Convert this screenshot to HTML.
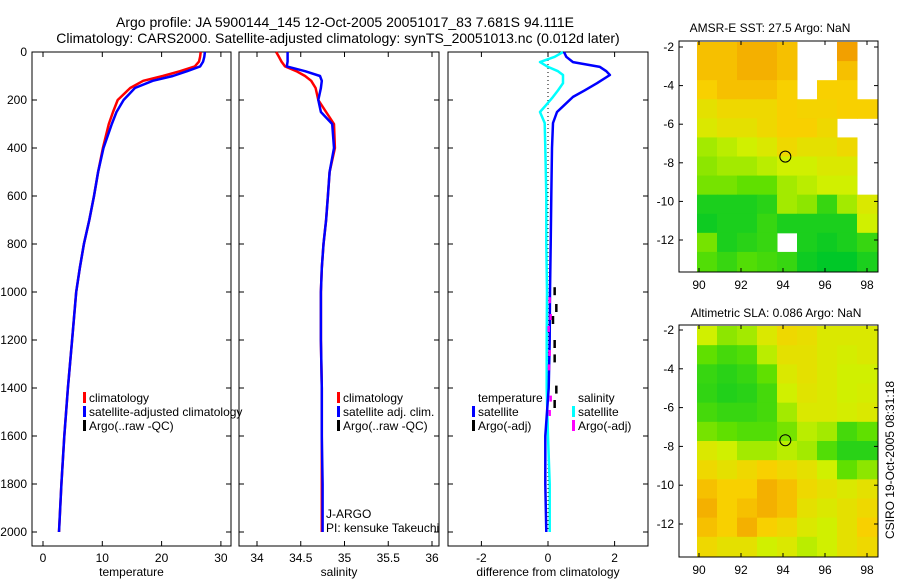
<!DOCTYPE html>
<html><head><meta charset="utf-8"><style>
body{margin:0;background:#fff;}
svg{display:block;font-family:"Liberation Sans",sans-serif;}
</style></head><body>
<svg id="c" width="900" height="580" xmlns="http://www.w3.org/2000/svg">
<text x="345" y="27" font-size="14" text-anchor="middle">Argo profile: JA 5900144_145 12-Oct-2005 20051017_83 7.681S 94.111E</text>
<text x="338" y="43" font-size="14" text-anchor="middle">Climatology: CARS2000. Satellite-adjusted climatology: synTS_20051013.nc (0.012d later)</text>
<text x="770" y="32" font-size="12" text-anchor="middle">AMSR-E SST: 27.5 Argo: NaN</text>
<text x="776" y="317" font-size="12" text-anchor="middle">Altimetric SLA: 0.086 Argo: NaN</text>
<text transform="translate(894,460) rotate(-90)" font-size="12" text-anchor="middle">CSIRO 19-Oct-2005 08:31:18</text>
</svg>
<script>
const depths=[0,20,40,60,80,100,120,150,200,250,300,400,500,600,700,800,900,1000,1200,1400,1600,1800,2000];
const climT=[26.6,26.5,26.3,25.6,23.1,20.2,16.9,14.7,12.6,11.8,11.1,10.1,9.3,8.6,7.8,6.9,6.2,5.6,4.9,4.2,3.6,3.1,2.7];
const satT=[27.3,27.2,27.0,26.5,24.3,21.9,18.5,15.5,13.6,12.4,11.6,10.2,9.3,8.6,7.8,6.9,6.2,5.6,4.9,4.2,3.6,3.1,2.7];
const climS=[34.22,34.25,34.28,34.32,34.45,34.55,34.62,34.67,34.70,34.79,34.88,34.89,34.83,34.81,34.79,34.76,34.74,34.73,34.73,34.74,34.74,34.74,34.74];
const satS=[34.35,34.35,34.35,34.34,34.55,34.72,34.74,34.73,34.70,34.73,34.86,34.88,34.83,34.81,34.79,34.76,34.74,34.73,34.73,34.74,34.74,34.75,34.75];
const diffDepths=[0,20,42,62,80,96,130,160,187,220,250,296,400,600,800,1000,1200,1400,1600,1800,2000];
const diffT=[0.48,0.55,0.75,1.56,1.75,1.86,1.47,1.1,0.75,0.5,0.27,0.15,0.12,0.1,0.08,0.06,0.05,0.02,-0.08,-0.08,-0.05];
const diffS=[0.45,0.2,-0.24,0.0,0.3,0.45,0.45,0.3,0.15,-0.05,-0.24,-0.1,-0.08,-0.05,-0.05,-0.03,-0.04,-0.04,0.0,0.05,0.05];
const argoDepths=[980,1050,1100,1200,1260,1390,1450];
const argoDT=[0.2,0.25,0.15,0.2,0.2,0.25,0.2];
const argoDS=[0.05,0.08,0.02,0.05,0.03,0.08,0.05];
const depthTicks=[0,200,400,600,800,1000,1200,1400,1600,1800,2000];
const tTicks=[0,10,20,30];
const sTicks=[34,34.5,35,35.5,36];
const dTicks=[-2,0,2];
const lonTicks=[90,92,94,96,98];
const latTicks=[-2,-4,-6,-8,-10,-12];
const sstGrid=[
[.85,.85,.9,.9,.85,null,null,.95,null],
[.85,.85,.9,.9,.85,null,null,.85,null],
[.8,.85,.85,.85,.8,null,.8,.8,null],
[.7,.75,.75,.75,.8,.78,.78,.8,.8],
[.65,.7,.7,.75,.8,.8,.75,null,null],
[.5,.55,.6,.65,.75,.7,.7,.75,null],
[.45,.5,.5,.55,.6,.6,.65,.65,null],
[.4,.4,.35,.35,.5,.55,.6,.6,null],
[.1,.1,.1,.15,.5,.45,.2,.5,.65],
[.05,.1,.1,.2,.1,.1,.1,.1,.6],
[.4,.1,.15,.2,null,.1,.05,.1,.2],
[.3,.2,.3,.25,.2,.05,0,0,.1]];
const slaGrid=[
[.6,.45,.5,.65,.75,.72,.65,.65,.65],
[.35,.25,.3,.55,.7,.7,.65,.62,.65],
[.2,.15,.2,.35,.65,.7,.65,.6,.6],
[.18,.12,.15,.25,.6,.68,.65,.6,.62],
[.25,.2,.2,.25,.5,.65,.65,.62,.65],
[.4,.35,.3,.3,.4,.55,.5,.25,.35],
[.65,.6,.5,.5,.55,.5,.3,.15,.15],
[.75,.7,.75,.8,.75,.7,.6,.35,.45],
[.85,.8,.8,.9,.85,.75,.7,.65,.7],
[.9,.8,.85,.9,.85,.7,.65,.7,.75],
[.85,.8,.9,.8,.75,.65,.6,.7,.8],
[.75,.7,.7,.6,.65,.55,.6,.7,.75]];

const NS='http://www.w3.org/2000/svg';
const svg=document.getElementById('c');
function mk(tag,attrs,parent){const e=document.createElementNS(NS,tag);for(const k in attrs)e.setAttribute(k,attrs[k]);(parent||svg).appendChild(e);return e;}
function txt(x,y,s,size,anchor,parent){const t=mk('text',{x:x,y:y,'font-size':size,'text-anchor':anchor||'middle'},parent);t.textContent=s;return t;}
const yD=d=>52+d*0.24;
const panels=[
 {x0:32,x1:231,v0:0,px0:43,scale:5.93,ticks:tTicks,label:'temperature',name:'temperature-panel'},
 {x0:239,x1:439,v0:34,px0:257,scale:87.5,ticks:sTicks,label:'salinity',name:'salinity-panel'},
 {x0:448,x1:648,v0:0,px0:548,scale:33.3,ticks:dTicks,label:'difference from climatology',name:'difference-panel'}];
panels.forEach((p,i)=>{
 p.xf=v=>p.px0+(v-p.v0)*p.scale;
 const g=mk('g',{});
 
 
 mk('rect',{x:p.x0,y:52,width:p.x1-p.x0,height:494,fill:'none',stroke:'#000','stroke-width':1},g);
 p.ticks.forEach(t=>{const x=p.xf(t);mk('line',{x1:x,x2:x,y1:546,y2:541,stroke:'#000'},g);mk('line',{x1:x,x2:x,y1:52,y2:57,stroke:'#000'},g);
  const tl=txt(x,562,String(t),12,'middle',g);
  
  });
 depthTicks.forEach(d=>{const y=yD(d);mk('line',{x1:p.x0,x2:p.x0+5,y1:y,y2:y,stroke:'#000'},g);mk('line',{x1:p.x1,x2:p.x1-5,y1:y,y2:y,stroke:'#000'},g);
  if(i==0){const tl=txt(27,y+4,String(d),12,'end',g);
  
  }});
 const xl=txt((p.x0+p.x1)/2,576,p.label,12,'middle',g);
 
 
});
function line(p,vals,ds,color,w,name){
 const pts=vals.map((v,k)=>p.xf(v).toFixed(1)+','+yD(ds[k]).toFixed(1)).join(' ');
 const l=mk('polyline',{points:pts,fill:'none',stroke:color,'stroke-width':w,'stroke-linejoin':'round'});
 
 
}
const P=panels;
line(P[0],climT,depths,'#f00',2.5,'climatology-temperature-line');
line(P[0],satT,depths,'#00f',2.5,'satellite-temperature-line');
line(P[1],climS,depths,'#f00',2.5,'climatology-salinity-line');
line(P[1],satS,depths,'#00f',2.5,'satellite-salinity-line');
mk('line',{x1:548,x2:548,y1:52,y2:532,stroke:'#000','stroke-dasharray':'1,3'});
line(P[2],diffS,diffDepths,'#0ff',2.5,'salinity-difference-line');
line(P[2],diffT,diffDepths,'#00f',2.5,'temperature-difference-line');
argoDepths.forEach((d,k)=>{const x=P[2].xf(argoDT[k]);const a=mk('line',{x1:x,x2:x,y1:yD(d),y2:yD(d)+8,stroke:'#000','stroke-width':2.5});
 
 
 const xs=P[2].xf(argoDS[k]);const b=mk('line',{x1:xs,x2:xs,y1:yD(d)+10,y2:yD(d)+16,stroke:'#f0f','stroke-width':2.5});
 
 });
function legend(x,y,items,name){const g=mk('g',{});
 items.forEach((it,k)=>{const yy=y+k*14;if(it[0])mk('rect',{x:x,y:yy-10,width:3,height:11,fill:it[0]},g);txt(x+6,yy,it[1],12,'start',g);});}
legend(83,402,[['#f00','climatology'],['#00f','satellite-adjusted climatology'],['#000','Argo(..raw -QC)']],'temperature-legend');
legend(337,402,[['#f00','climatology'],['#00f','satellite adj. clim.'],['#000','Argo(..raw -QC)']],'salinity-legend');
legend(472,402,[[null,'temperature'],['#00f','satellite'],['#000','Argo(-adj)']],'difference-temperature-legend');
legend(572,402,[[null,'salinity'],['#0ff','satellite'],['#f0f','Argo(-adj)']],'difference-salinity-legend');
txt(326,518,'J-ARGO',12,'start');
txt(326,532,'PI: kensuke Takeuchi',12,'start');
const stops=[[0,[0,200,40]],[0.35,[96,224,0]],[0.6,[208,240,0]],[0.8,[248,208,0]],[1,[240,144,0]]];
function cmap(v){for(let i=1;i<stops.length;i++){if(v<=stops[i][0]){const a=stops[i-1],b=stops[i],t=(v-a[0])/(b[0]-a[0]);return 'rgb('+a[1].map((c,j)=>Math.round(c+(b[1][j]-c)*t)).join(',')+')';}}return 'rgb(240,144,0)';}
function map(top,bot,latM2,latM12,grid,name){
 const g=mk('g',{});
 const lonX=l=>699+(l-90)*21, latY=l=>latM2+(-2-l)*(latM12-latM2)/10;
 const cw=180/grid[0].length, ch=(bot-top)/grid.length;
 grid.forEach((row,r)=>row.forEach((v,c)=>{if(v===null)return;
  const cell=mk('rect',{x:697+c*cw,y:top+r*ch,width:cw+0.5,height:ch+0.5,fill:cmap(v)},g);
  
  }));
 mk('rect',{x:679,y:top-1,width:199,height:bot-top+2,fill:'none',stroke:'#000'},g);
 lonTicks.forEach(l=>{const x=lonX(l);mk('line',{x1:x,x2:x,y1:bot+1,y2:bot-3,stroke:'#000'},g);mk('line',{x1:x,x2:x,y1:top-1,y2:top+3,stroke:'#000'},g);txt(x,bot+18,String(l),12,'middle',g);});
 latTicks.forEach(l=>{const y=latY(l);mk('line',{x1:679,x2:683,y1:y,y2:y,stroke:'#000'},g);mk('line',{x1:878,x2:874,y1:y,y2:y,stroke:'#000'},g);txt(674,y+4,String(l),12,'end',g);});
 const m=mk('circle',{cx:lonX(94.111),cy:latY(-7.681),r:5.5,fill:'none',stroke:'#000'},g);
 
 
}
map(42,271,47,240,sstGrid,'sst-map');
map(326,556,330,524,slaGrid,'sla-map');
</script>
</body></html>
